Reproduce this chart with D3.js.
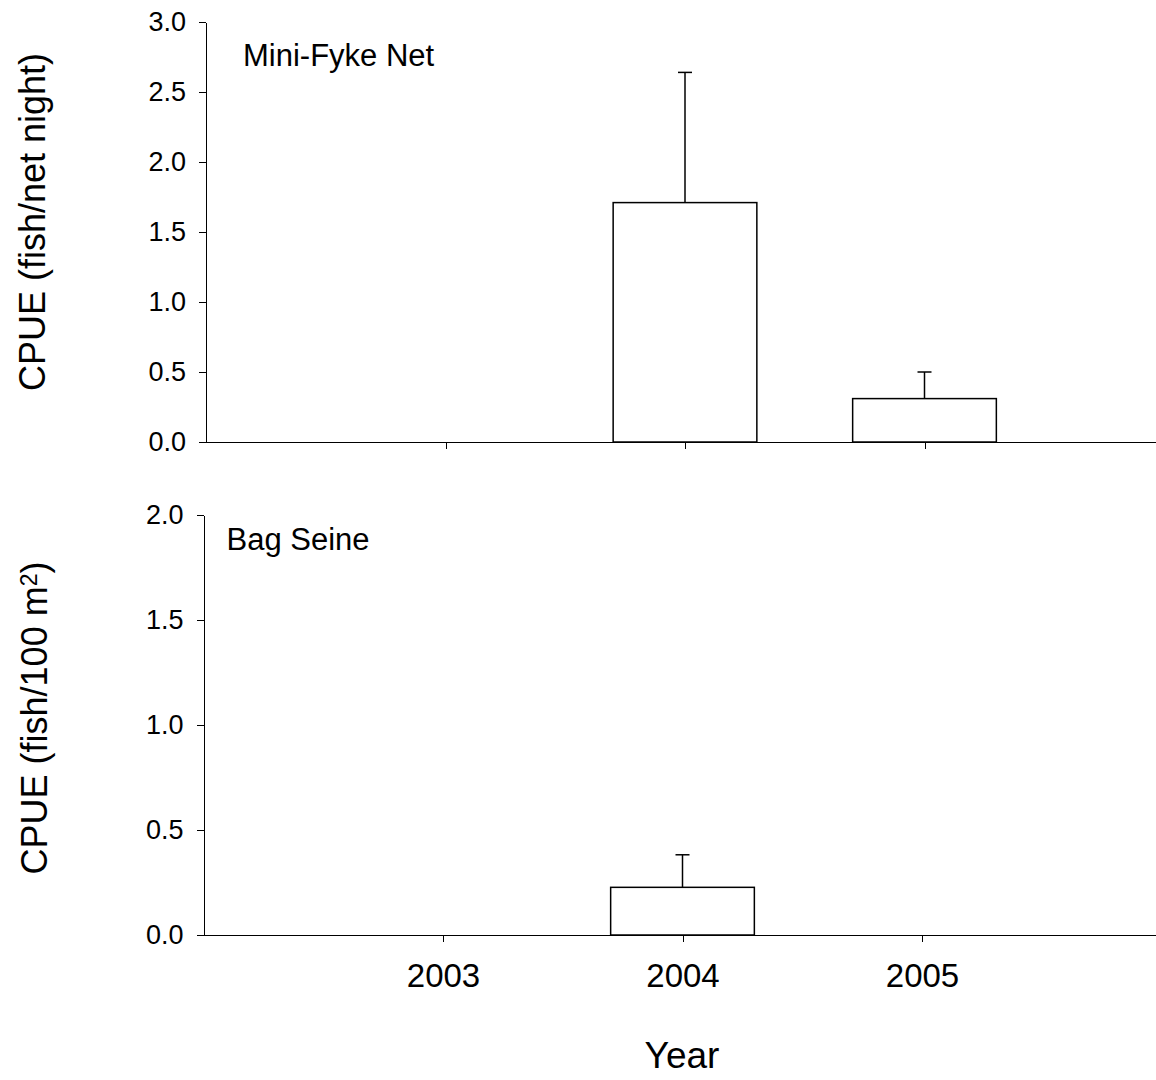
<!DOCTYPE html>
<html lang="en">
<head>
<meta charset="utf-8">
<script src="https://d3js.org/d3.v7.min.js"></script>
<style type="text/css">
body {
  margin: 0;
  background-color: #ffffff;
  font-family: "Liberation Sans", Arial, sans-serif;
}
.axis line, .axis path {
  fill: none;
  stroke: #000;
  shape-rendering: crispEdges;
}
.axis text {
  font-family: "Liberation Sans", Arial, sans-serif;
  fill: #000;
}
</style>
</head>
<body>
<script type="text/javascript">

// Data
var years = [2003, 2004, 2005];
var fykeCpue = [0, 1.71, 0.31];
var fykeSE = [0, 0.93, 0.19];
var seineCpue = [0, 0.227, 0];
var seineSE = [0, 0.155, 0];
var fykeTicks = [0.0, 0.5, 1.0, 1.5, 2.0, 2.5, 3.0];
var seineTicks = [0.0, 0.5, 1.0, 1.5, 2.0];

var width = 1156, height = 1080;

var svg = d3.select("body").append("svg")
  .attr("width", width)
  .attr("height", height);

// draw one panel
function panel(opts) {
  var g = svg.append("g")
    .attr("transform", "translate(" + opts.dx + ",0)");

  var x = d3.scaleLinear().domain([2002, 2006]).range([206, 1164]);
  var y = d3.scaleLinear().domain(opts.domain).range([opts.bottom, opts.top]);

  // bars
  var data = years.map(function(yr, i) {
    return { year: yr, value: opts.values[i], se: opts.se[i] };
  });

  g.selectAll(".bar")
    .data(data)
    .enter().append("rect")
    .attr("class", "bar")
    .attr("x", function(d) { return x(d.year - 0.3); })
    .attr("width", function(d) { return x(d.year + 0.3) - x(d.year - 0.3); })
    .attr("y", function(d) { return y(d.value); })
    .attr("height", function(d) { return y(0) - y(d.value); })
    .style("fill", "#fff")
    .style("stroke", "#000")
    .style("stroke-width", 1.5);

  // error bars (upper only)
  var err = data.filter(function(d) { return d.se > 0; });
  g.selectAll(".err")
    .data(err)
    .enter().append("line")
    .attr("class", "err")
    .attr("x1", function(d) { return x(d.year); })
    .attr("x2", function(d) { return x(d.year); })
    .attr("y1", function(d) { return y(d.value); })
    .attr("y2", function(d) { return y(d.value + d.se); })
    .style("stroke", "#000")
    .style("stroke-width", 1.5);
  g.selectAll(".cap")
    .data(err)
    .enter().append("line")
    .attr("class", "cap")
    .attr("x1", function(d) { return x(d.year) - 7; })
    .attr("x2", function(d) { return x(d.year) + 7; })
    .attr("y1", function(d) { return y(d.value + d.se); })
    .attr("y2", function(d) { return y(d.value + d.se); })
    .style("stroke", "#000")
    .style("stroke-width", 1.5);

  // y axis
  var yAxis = d3.axisLeft(y)
    .tickValues(opts.ticks)
    .tickFormat(d3.format(".1f"))
    .tickSizeInner(7)
    .tickSizeOuter(0)
    .tickPadding(13);
  var ya = g.append("g")
    .attr("class", "axis")
    .attr("transform", "translate(" + x(2002) + ",0)")
    .call(yAxis);
  ya.selectAll("text").style("font-size", "27px");

  // x axis
  var xAxis = d3.axisBottom(x)
    .tickValues(years)
    .tickFormat(opts.showLabels ? d3.format("d") : "")
    .tickSizeInner(7)
    .tickSizeOuter(0)
    .tickPadding(22);
  var xa = g.append("g")
    .attr("class", "axis")
    .attr("transform", "translate(0," + y(0) + ")")
    .call(xAxis);
  xa.selectAll("text").style("font-size", "33px");

  // panel label
  g.append("text")
    .attr("x", opts.labelX)
    .attr("y", opts.labelY)
    .style("font-size", "31px")
    .text(opts.label);

  return g;
}

panel({
  dx: 0, top: 22, bottom: 442, domain: [0, 3],
  values: fykeCpue, se: fykeSE, ticks: fykeTicks,
  showLabels: false, label: "Mini-Fyke Net", labelX: 243, labelY: 66
});

panel({
  dx: -2.5, top: 515, bottom: 935, domain: [0, 2],
  values: seineCpue, se: seineSE, ticks: seineTicks,
  showLabels: true, label: "Bag Seine", labelX: 229, labelY: 550
});

// y axis titles
svg.append("text")
  .attr("transform", "translate(45,222) rotate(-90)")
  .attr("text-anchor", "middle")
  .style("font-size", "36px")
  .text("CPUE (fish/net night)");

var t2 = svg.append("text")
  .attr("transform", "translate(47,718) rotate(-90)")
  .attr("text-anchor", "middle")
  .style("font-size", "36px");
t2.append("tspan").text("CPUE (fish/100 m");
t2.append("tspan").attr("dy", "-0.45em").style("font-size", "23px").text("2");
t2.append("tspan").attr("dy", "0.29em").text(")");

// x axis title
svg.append("text")
  .attr("x", 682)
  .attr("y", 1068)
  .attr("text-anchor", "middle")
  .style("font-size", "37px")
  .text("Year");

</script>
</body>
</html>
